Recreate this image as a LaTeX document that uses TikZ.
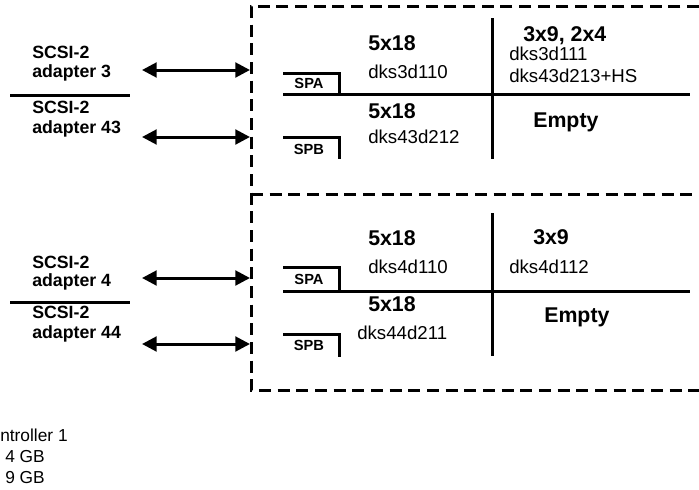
\documentclass[tikz,border=0pt]{standalone}
\usepackage{fontspec}
\setmainfont{Liberation Sans}
\usetikzlibrary{arrows.meta}
\tikzset{
    adapter/.style={anchor=base west, inner sep=0pt, align=left,
        font=\fontsize{13.3}{14.5}\selectfont\bfseries},
    sizelbl/.style={anchor=base west, inner sep=0pt, font=\fontsize{16}{19}\selectfont\bfseries},
    disklbl/.style={anchor=base west, inner sep=0pt, font=\fontsize{14}{16}\selectfont},
    portlbl/.style={anchor=base, inner sep=0pt, font=\fontsize{11}{12}\selectfont\bfseries},
    legend/.style={anchor=base west, inner sep=0pt, font=\fontsize{13}{15}\selectfont},
    bus/.style={{Triangle[length=11pt,width=11pt]}-{Triangle[length=11pt,width=11pt]}, line width=2.25pt},
    rule/.style={line width=2.25pt}
}

\begin{document}
\begin{tikzpicture}[x=0.75pt, y=-0.75pt]
\useasboundingbox (0,0) rectangle (699,489);
\clip (0,0) rectangle (699,489);

% --- gestrichelter Rahmen ---
\draw[line width=2.25pt, dash pattern=on 9pt off 5pt]
(699,6) -- (251,6) -- (251,390) -- (699,390);
\draw[line width=2.25pt, dash pattern=on 9pt off 5pt] (251,194) -- (699,194);

% --- Adapter oben ---
\node[adapter] (a3) at (32,58) {SCSI-2};
\node[adapter] (a3b) at (32,77) {adapter 3};
\draw[rule] (10,95) -- (130,95);
\node[adapter] (a43) at (32,113) {SCSI-2};
\node[adapter] (a43b) at (32,133) {adapter 43};

\coordinate (p3) at (142,70);
\coordinate (q3) at (250,70);
\coordinate (p43) at (142,137);
\coordinate (q43) at (250,137);
\draw[bus] (p3) -- (q3);
\draw[bus] (p43) -- (q43);

% --- Adapter unten ---
\node[adapter] (a4) at (32,268) {SCSI-2};
\node[adapter] (a4b) at (32,286) {adapter 4};
\draw[rule] (10,302) -- (130,302);
\node[adapter] (a44) at (32,318) {SCSI-2};
\node[adapter] (a44b) at (32,338) {adapter 44};

\coordinate (p4) at (142,278);
\coordinate (q4) at (250,278);
\coordinate (p44) at (142,344);
\coordinate (q44) at (250,344);
\draw[bus] (p4) -- (q4);
\draw[bus] (p44) -- (q44);

% --- Gehaeuse oben ---
\draw[rule] (283,94) -- (690,94);
\draw[rule] (492,18) -- (492,159);
\draw[rule] (283,73) -- (339,73) -- (339,95);
\draw[rule] (283,137) -- (339,137) -- (339,159);
\node[portlbl] (spa1) at (309,88) {SPA};
\node[portlbl] (spb1) at (309,154) {SPB};

\node[sizelbl] (s11) at (368,50) {5x18};
\node[disklbl] (d11) at (368,78) {dks3d110};
\node[sizelbl] (s12) at (368,118) {5x18};
\node[disklbl] (d12) at (368,143) {dks43d212};
\node[sizelbl] (s13) at (523,41) {3x9, 2x4};
\node[disklbl] (d13) at (509,60) {dks3d111};
\node[disklbl] (d14) at (509,82) {dks43d213+HS};
\node[sizelbl] (e1) at (533,127) {Empty};

% --- Gehaeuse unten ---
\draw[rule] (283,291) -- (690,291);
\draw[rule] (492,213) -- (492,356);
\draw[rule] (283,267) -- (339,267) -- (339,292);
\draw[rule] (283,334) -- (339,334) -- (339,357);
\node[portlbl] (spa2) at (309,284) {SPA};
\node[portlbl] (spb2) at (309,350) {SPB};

\node[sizelbl] (s21) at (368,245) {5x18};
\node[disklbl] (d21) at (368,273) {dks4d110};
\node[sizelbl] (s22) at (368,311) {5x18};
\node[disklbl] (d22) at (357,339) {dks44d211};
\node[sizelbl] (s23) at (533,244) {3x9};
\node[disklbl] (d23) at (509,273) {dks4d112};
\node[sizelbl] (e2) at (544,322) {Empty};

% --- Legende ---
\node[legend] (l1) at (0,441) {ntroller 1};
\node[legend] (l2) at (5,462) {4 GB};
\node[legend] (l3) at (5,483) {9 GB};

\end{tikzpicture}
\end{document}
